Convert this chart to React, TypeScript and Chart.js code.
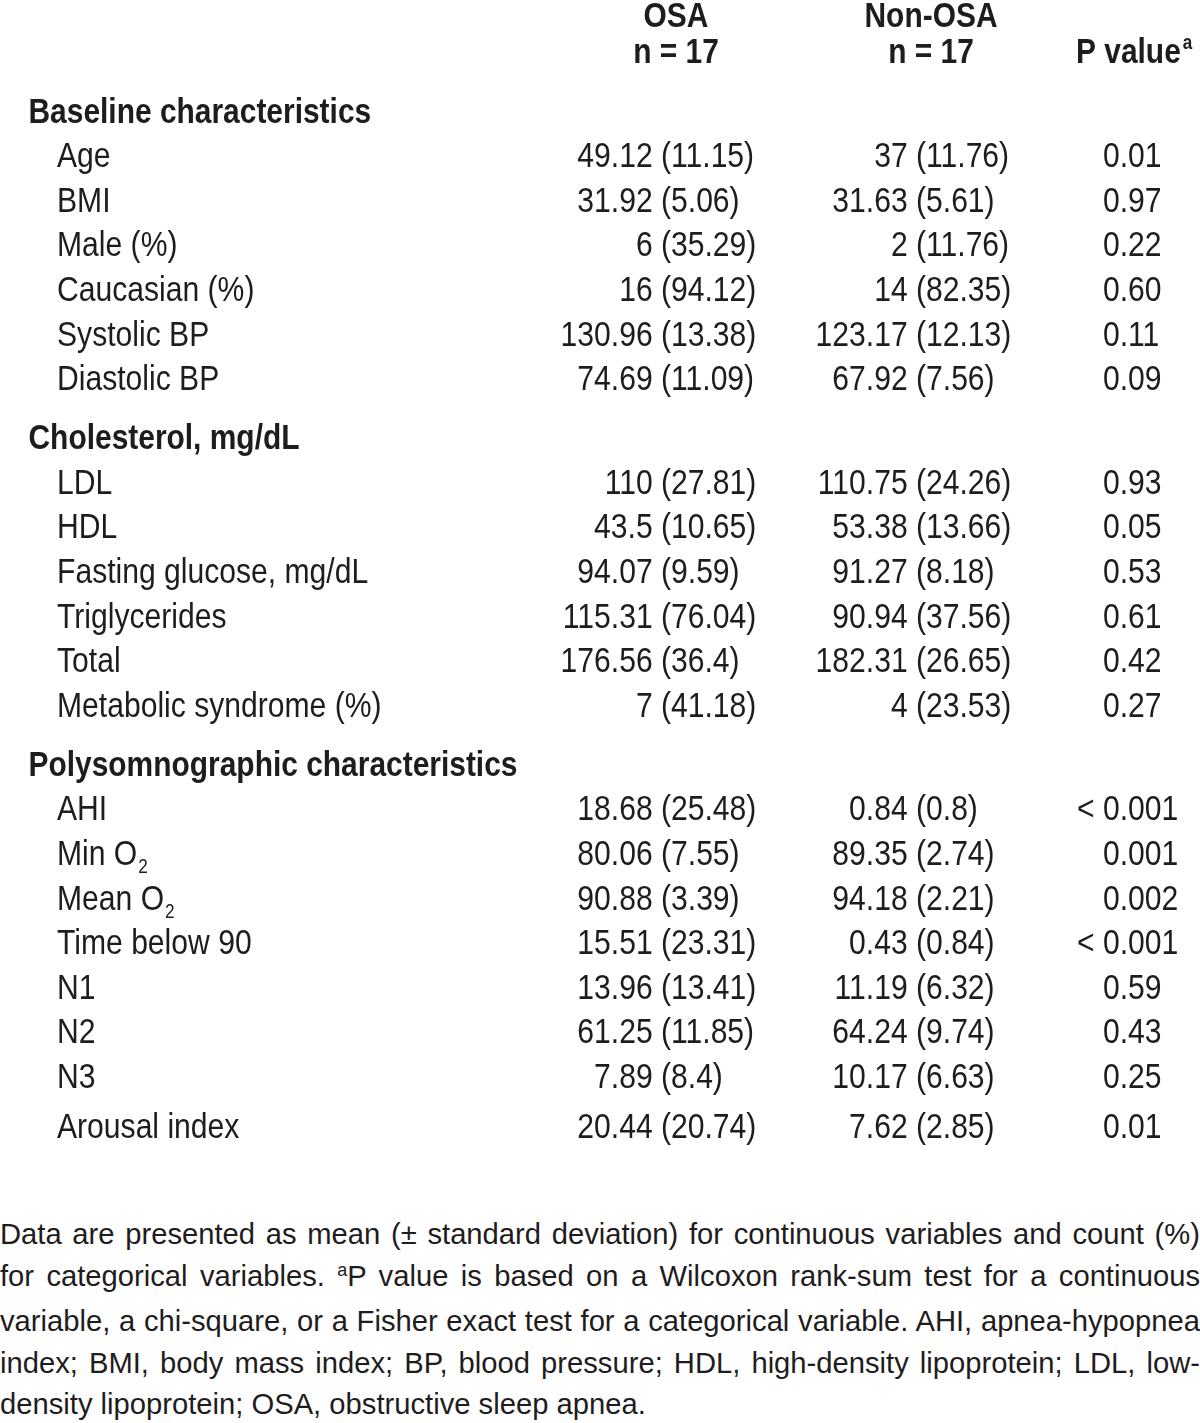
import React, { useEffect, useRef } from "react";
import { Chart, registerables } from "chart.js";

Chart.register(...registerables);

// ---------------- data ----------------
const columnTitles = ["OSA", "Non-OSA", "P value"];
const groupSizes = ["n = 17", "n = 17"];
const pValueNote = "a";

const sectionTitles = [
  "Baseline characteristics",
  "Cholesterol, mg/dL",
  "Polysomnographic characteristics",
];

const variables = [
  "Age",
  "BMI",
  "Male (%)",
  "Caucasian (%)",
  "Systolic BP",
  "Diastolic BP",
  "LDL",
  "HDL",
  "Fasting glucose, mg/dL",
  "Triglycerides",
  "Total",
  "Metabolic syndrome (%)",
  "AHI",
  "Min O₂",
  "Mean O₂",
  "Time below 90",
  "N1",
  "N2",
  "N3",
  "Arousal index",
];

const variableSection = [0, 0, 0, 0, 0, 0, 1, 1, 1, 1, 1, 1, 2, 2, 2, 2, 2, 2, 2, 2];

const osaMean = [49.12, 31.92, 6, 16, 130.96, 74.69, 110, 43.5, 94.07, 115.31, 176.56, 7, 18.68, 80.06, 90.88, 15.51, 13.96, 61.25, 7.89, 20.44];
const osaSpread = [11.15, 5.06, 35.29, 94.12, 13.38, 11.09, 27.81, 10.65, 9.59, 76.04, 36.4, 41.18, 25.48, 7.55, 3.39, 23.31, 13.41, 11.85, 8.4, 20.74];
const nonOsaMean = [37, 31.63, 2, 14, 123.17, 67.92, 110.75, 53.38, 91.27, 90.94, 182.31, 4, 0.84, 89.35, 94.18, 0.43, 11.19, 64.24, 10.17, 7.62];
const nonOsaSpread = [11.76, 5.61, 11.76, 82.35, 12.13, 7.56, 24.26, 13.66, 8.18, 37.56, 26.65, 23.53, 0.8, 2.74, 2.21, 0.84, 6.32, 9.74, 6.63, 2.85];
const pValues = ["0.01", "0.97", "0.22", "0.60", "0.11", "0.09", "0.93", "0.05", "0.53", "0.61", "0.42", "0.27", "< 0.001", "0.001", "0.002", "< 0.001", "0.59", "0.43", "0.25", "0.01"];

const footnoteLines = [
  "Data are presented as mean (± standard deviation) for continuous variables and count (%)",
  "for categorical variables. |a|P value is based on a Wilcoxon rank-sum test for a continuous",
  "variable, a chi-square, or a Fisher exact test for a categorical variable. AHI, apnea-hypopnea",
  "index; BMI, body mass index; BP, blood pressure; HDL, high-density lipoprotein; LDL, low-",
  "density lipoprotein; OSA, obstructive sleep apnea.",
];

// ---------------- layout ----------------
const W = 1200;
const H = 1190;
const FONT = '"Liberation Sans", Arial, Helvetica, sans-serif';
const INK = "#1f1c1d";
const BODY_SIZE = 35;
const BODY_SX = 0.86;
const BOLD_SX = 0.855;

const X_SECTION = 28.5;
const X_LABEL = 57;
const X_OSA_PAREN = 661;
const X_NON_PAREN = 916;
const X_P_LEFT = 1103;
const X_OSA_CENTER = 676;
const X_NON_CENTER = 931;
const X_P_HEADER = 1076;

const Y_HEAD1 = 27;
const Y_HEAD2 = 63;
const Y_FIRST_SECTION = 122.5;
const ROW_STEP = 44.6;
const SECTION_GAP = 59;
const LAST_ROW_EXTRA = 5.8;

function computeRows() {
  const sectionY: number[] = [];
  const varY: number[] = [];
  let y = Y_FIRST_SECTION;
  sectionTitles.forEach((_, s) => {
    if (s > 0) y += SECTION_GAP;
    sectionY[s] = y;
    variables.forEach((_, i) => {
      if (variableSection[i] !== s) return;
      y += ROW_STEP;
      if (i === variables.length - 1) y += LAST_ROW_EXTRA;
      varY[i] = y;
    });
  });
  return { sectionY, varY };
}

function drawText(
  ctx: CanvasRenderingContext2D,
  text: string,
  x: number,
  y: number,
  size: number,
  bold: boolean,
  sx: number,
  align: "left" | "right" | "center"
) {
  ctx.save();
  ctx.font = `${bold ? "bold " : ""}${size}px ${FONT}`;
  const w = ctx.measureText(text).width * sx;
  const left = align === "left" ? x : align === "right" ? x - w : x - w / 2;
  ctx.translate(left, y);
  ctx.scale(sx, 1);
  ctx.textAlign = "left";
  ctx.textBaseline = "alphabetic";
  ctx.fillStyle = INK;
  ctx.fillText(text, 0, 0);
  ctx.restore();
  return w;
}

function textWidth(ctx: CanvasRenderingContext2D, text: string, size: number, bold: boolean, sx: number) {
  ctx.save();
  ctx.font = `${bold ? "bold " : ""}${size}px ${FONT}`;
  const w = ctx.measureText(text).width * sx;
  ctx.restore();
  return w;
}

const tablePlugin = {
  id: "tableText",
  afterDatasetsDraw(chart: any) {
    const ctx: CanvasRenderingContext2D = chart.ctx;
    chart.data.datasets.forEach((ds: any, di: number) => {
      const meta = chart.getDatasetMeta(di);
      meta.data.forEach((el: any, j: number) => {
        const x = el.x;
        const y = el.y;
        const cell = ds.cells[j];
        switch (ds.kind) {
          case "header": {
            if (!cell) break;
            if (cell === columnTitles[2]) {
              const w = drawText(ctx, cell, x, y, BODY_SIZE, true, BOLD_SX, "left");
              drawText(ctx, pValueNote, x + w + 2, y - 14, 20, true, BOLD_SX, "left");
            } else {
              drawText(ctx, cell, x, y, BODY_SIZE, true, BOLD_SX, "center");
            }
            break;
          }
          case "section":
            drawText(ctx, cell, x, y, BODY_SIZE, true, BOLD_SX, "left");
            break;
          case "label": {
            const parts = cell.split("₂");
            const w = drawText(ctx, parts[0], x, y, BODY_SIZE, false, BODY_SX, "left");
            if (parts.length > 1) {
              drawText(ctx, "2", x + w + 1, y + 8, 20, false, BODY_SX, "left");
            }
            break;
          }
          case "value": {
            const [mean, spread] = cell as [number, number];
            const prefix = `${mean} `;
            const pw = textWidth(ctx, prefix, BODY_SIZE, false, BODY_SX);
            drawText(ctx, `${prefix}(${spread})`, x - pw, y, BODY_SIZE, false, BODY_SX, "left");
            break;
          }
          case "p": {
            const s: string = cell;
            if (s.startsWith("< ")) {
              drawText(ctx, "< ", x, y, BODY_SIZE, false, BODY_SX, "right");
              drawText(ctx, s.slice(2), x, y, BODY_SIZE, false, BODY_SX, "left");
            } else {
              drawText(ctx, s, x, y, BODY_SIZE, false, BODY_SX, "left");
            }
            break;
          }
        }
      });
    });
  },
};

function Footnote() {
  return (
    <div
      style={{
        position: "absolute",
        left: 0,
        top: 1214,
        width: W,
        fontFamily: FONT,
        fontSize: 29.2,
        lineHeight: "41.5px",
        color: INK,
      }}
    >
      {footnoteLines.map((line, i) => {
        const parts = line.split("|");
        const last = i === footnoteLines.length - 1;
        return (
          <div
            key={i}
            style={{
              textAlign: "justify",
              textAlignLast: last ? "left" : "justify",
              whiteSpace: "normal",
            }}
          >
            {parts.map((p, k) =>
              k % 2 === 1 ? (
                <span key={k} style={{ fontSize: 18, position: "relative", top: -10 }}>
                  {p}
                </span>
              ) : (
                <span key={k}>{p}</span>
              )
            )}
          </div>
        );
      })}
    </div>
  );
}

export default function App() {
  const canvasRef = useRef<HTMLCanvasElement | null>(null);

  useEffect(() => {
    document.body.style.margin = "0";
    document.body.style.background = "#ffffff";
    const canvas = canvasRef.current;
    if (!canvas) return;
    const { sectionY, varY } = computeRows();

    const headerCells = [columnTitles[0], columnTitles[1], groupSizes[0], groupSizes[1], columnTitles[2]];
    const headerPts = [
      { x: X_OSA_CENTER, y: Y_HEAD1 },
      { x: X_NON_CENTER, y: Y_HEAD1 },
      { x: X_OSA_CENTER, y: Y_HEAD2 },
      { x: X_NON_CENTER, y: Y_HEAD2 },
      { x: X_P_HEADER, y: Y_HEAD2 },
    ];

    const base = { pointRadius: 0, pointHoverRadius: 0, showLine: false };
    const chart = new Chart(canvas, {
      type: "scatter",
      data: {
        datasets: [
          { ...base, label: "Header", kind: "header", cells: headerCells, data: headerPts } as any,
          {
            ...base,
            label: "Sections",
            kind: "section",
            cells: sectionTitles,
            data: sectionTitles.map((_, s) => ({ x: X_SECTION, y: sectionY[s] })),
          } as any,
          {
            ...base,
            label: "Variables",
            kind: "label",
            cells: variables,
            data: variables.map((_, i) => ({ x: X_LABEL, y: varY[i] })),
          } as any,
          {
            ...base,
            label: "OSA",
            kind: "value",
            cells: osaMean.map((m, i) => [m, osaSpread[i]]),
            data: osaMean.map((_, i) => ({ x: X_OSA_PAREN, y: varY[i] })),
          } as any,
          {
            ...base,
            label: "Non-OSA",
            kind: "value",
            cells: nonOsaMean.map((m, i) => [m, nonOsaSpread[i]]),
            data: nonOsaMean.map((_, i) => ({ x: X_NON_PAREN, y: varY[i] })),
          } as any,
          {
            ...base,
            label: "P value",
            kind: "p",
            cells: pValues,
            data: pValues.map((_, i) => ({ x: X_P_LEFT, y: varY[i] })),
          } as any,
        ],
      },
      options: {
        animation: false,
        responsive: false,
        maintainAspectRatio: false,
        events: [],
        layout: { padding: 0 },
        plugins: { legend: { display: false }, tooltip: { enabled: false }, title: { display: false } },
        scales: {
          x: { type: "linear", display: false, min: 0, max: W },
          y: { type: "linear", display: false, min: 0, max: H, reverse: true },
        },
      },
      plugins: [tablePlugin],
    });

    return () => chart.destroy();
  }, []);

  return (
    <div style={{ position: "relative", width: W, height: 1423, background: "#fff" }}>
      <canvas
        ref={canvasRef}
        width={W}
        height={H}
        style={{ position: "absolute", left: 0, top: 0, width: W, height: H }}
      />
      <Footnote />
    </div>
  );
}
